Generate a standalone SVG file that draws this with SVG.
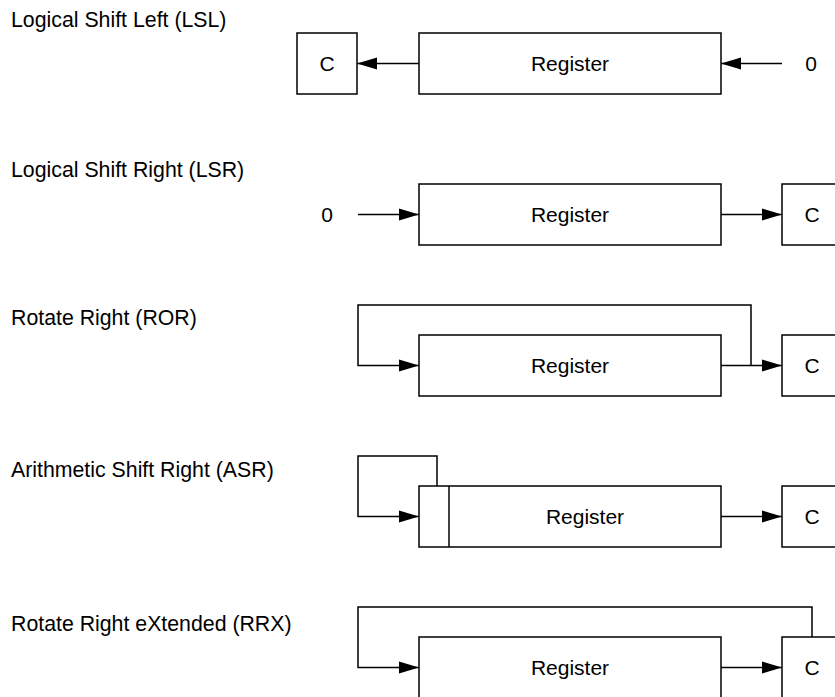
<svg xmlns="http://www.w3.org/2000/svg" width="835" height="697" viewBox="0 0 835 697">
<defs>
<marker id="ah" markerUnits="userSpaceOnUse" markerWidth="20" markerHeight="13" refX="20" refY="6.5" orient="auto">
<path d="M0,0.5 L20,6.5 L0,12.5 z" fill="#000"/>
</marker>
<style>
.box{fill:#fff;stroke:#000;stroke-width:1.5}
.ln{fill:none;stroke:#000;stroke-width:1.5}
.arr{fill:none;stroke:#000;stroke-width:1.5;marker-end:url(#ah)}
.lbl{font-family:"Liberation Sans",Arial,sans-serif;font-size:21.3px;fill:#000}
.t{font-family:"Liberation Sans",Arial,sans-serif;font-size:21px;fill:#000;text-anchor:middle}
</style>
</defs>
<rect width="835" height="697" fill="#fff"/>

<g id="labels">
<text class="lbl" x="11" y="27">Logical Shift Left (LSL)</text>
<text class="lbl" x="11" y="177">Logical Shift Right (LSR)</text>
<text class="lbl" x="11" y="325">Rotate Right (ROR)</text>
<text class="lbl" x="11" y="477">Arithmetic Shift Right (ASR)</text>
<text class="lbl" x="11" y="631">Rotate Right eXtended (RRX)</text>
</g>

<g id="lsl-c"><rect class="box" x="297" y="33" width="60" height="61"/><text class="t" x="327" y="71">C</text></g>
<g id="lsl-reg"><rect class="box" x="419" y="33" width="302" height="61"/><text class="t" x="570" y="71">Register</text></g>
<g id="lsl-zero"><text class="t" x="811" y="71">0</text></g>

<g id="lsr-zero"><text class="t" x="327" y="222">0</text></g>
<g id="lsr-reg"><rect class="box" x="419" y="184" width="302" height="61"/><text class="t" x="570" y="222">Register</text></g>
<g id="lsr-c"><rect class="box" x="782" y="184" width="70" height="61"/><text class="t" x="812" y="222">C</text></g>

<g id="ror-reg"><rect class="box" x="419" y="335" width="302" height="61"/><text class="t" x="570" y="373">Register</text></g>
<g id="ror-c"><rect class="box" x="782" y="335" width="70" height="61"/><text class="t" x="812" y="373">C</text></g>

<g id="asr-reg"><rect class="box" x="419" y="486" width="302" height="61"/><line class="ln" x1="449" y1="486" x2="449" y2="547"/><text class="t" x="585" y="524">Register</text></g>
<g id="asr-c"><rect class="box" x="782" y="486" width="70" height="61"/><text class="t" x="812" y="524">C</text></g>

<g id="rrx-reg"><rect class="box" x="419" y="637" width="302" height="70"/><text class="t" x="570" y="675">Register</text></g>
<g id="rrx-c"><rect class="box" x="782" y="637" width="70" height="70"/><text class="t" x="812" y="675">C</text></g>

<g id="connectors">
<line class="arr" x1="419" y1="63.5" x2="357" y2="63.5"/>
<line class="arr" x1="782" y1="63.5" x2="721" y2="63.5"/>
<line class="arr" x1="358" y1="214.5" x2="419" y2="214.5"/>
<line class="arr" x1="721" y1="214.5" x2="782" y2="214.5"/>
<line class="arr" x1="721" y1="365.5" x2="782" y2="365.5"/>
<path class="arr" d="M751,365.5 V305 H358 V365.5 H419"/>
<line class="arr" x1="721" y1="516.5" x2="782" y2="516.5"/>
<path class="arr" d="M437,486 V456 H358 V516.5 H419"/>
<line class="arr" x1="721" y1="667.5" x2="782" y2="667.5"/>
<path class="arr" d="M812,637 V607 H358 V667.5 H419"/>
</g>
</svg>
